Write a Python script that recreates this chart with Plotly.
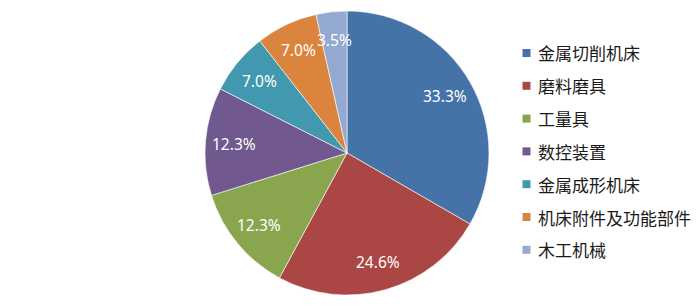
import math
import plotly.graph_objects as go

labels = ["金属切削机床", "磨料磨具", "工量具", "数控装置", "金属成形机床", "机床附件及功能部件", "木工机械"]
values = [19, 14, 7, 7, 4, 4, 2]
colors = ["#4572A7", "#AA4643", "#89A54E", "#71588F", "#4198AF", "#DB843D", "#93A9CF"]

W, H = 700, 308
cx, cy, r = 347, 153, 142
label_r = 0.80  # fraction of radius where percent labels sit (as in the original)

fig = go.Figure()
fig.add_trace(go.Pie(
    labels=labels, values=values, sort=False, direction="clockwise", rotation=0,
    marker=dict(colors=colors, line=dict(color="rgba(255,255,255,0.6)", width=1)),
    textinfo="none",
    showlegend=False, hoverinfo="label+percent",
    domain=dict(x=[(cx - r) / W, (cx + r) / W], y=[1 - (cy + r) / H, 1 - (cy - r) / H]),
))

# Percent labels placed at mid-angle of each slice, derived from the values
total = sum(values)
acc = 0
for v in values:
    mid = (acc + v / 2) / total * 2 * math.pi
    acc += v
    px = cx + label_r * r * math.sin(mid)
    py = cy - label_r * r * math.cos(mid)
    fig.add_annotation(xref="paper", yref="paper", x=px / W, y=1 - py / H,
                       xanchor="center", yanchor="middle", showarrow=False,
                       text=f"{v / total * 100:.1f}%",
                       font=dict(family="Noto Sans, Liberation Sans, sans-serif", size=15.5, color="white"))

# Manual legend
y0, dy = 53, 32.8
for i, (lab, col) in enumerate(zip(labels, colors)):
    yc = y0 + dy * i
    fig.add_shape(type="rect", xref="paper", yref="paper",
                  x0=522.5 / W, x1=530.5 / W, y0=1 - (yc + 4) / H, y1=1 - (yc - 4) / H,
                  fillcolor=col, line=dict(width=0))
    fig.add_annotation(xref="paper", yref="paper", x=536 / W, y=1 - yc / H,
                       xanchor="left", yanchor="middle", showarrow=False, text=lab,
                       font=dict(family="Noto Sans CJK SC", size=17, color="#1a1a1a"))

fig.update_layout(width=W, height=H, margin=dict(l=0, r=0, t=0, b=0),
                  paper_bgcolor="white", plot_bgcolor="white")
fig.write_html("out.html")
